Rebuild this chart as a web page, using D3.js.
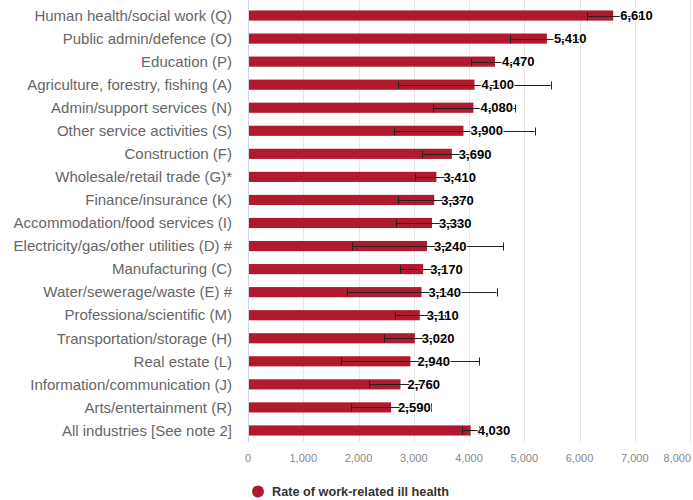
<!DOCTYPE html>
<html>
<head>
<meta charset="utf-8">
<script src="https://cdn.jsdelivr.net/npm/d3@7/dist/d3.min.js"></script>
<style>
  body { margin: 0; background: #fff; }
  svg { font-family: "Liberation Sans", Arial, sans-serif; }
</style>
</head>
<body>
<div id="chart"></div>
<script>
// industries, top to bottom
const categories = [
  "Human health/social work (Q)",
  "Public admin/defence (O)",
  "Education (P)",
  "Agriculture, forestry, fishing (A)",
  "Admin/support services (N)",
  "Other service activities (S)",
  "Construction (F)",
  "Wholesale/retail trade (G)*",
  "Finance/insurance (K)",
  "Accommodation/food services (I)",
  "Electricity/gas/other utilities (D) #",
  "Manufacturing (C)",
  "Water/sewerage/waste (E) #",
  "Professiona/scientific (M)",
  "Transportation/storage (H)",
  "Real estate (L)",
  "Information/communication (J)",
  "Arts/entertainment (R)",
  "All industries [See note 2]"
];
const rates = [6610, 5410, 4470, 4100, 4080, 3900, 3690, 3410, 3370, 3330,
               3240, 3170, 3140, 3110, 3020, 2940, 2760, 2590, 4030];
// 95% confidence interval ends
const lower = [6140, 4745, 4040, 2710, 3345, 2635, 3155, 3015, 2710, 2670,
               1885, 2760, 1785, 2655, 2465, 1690, 2195, 1865, 3875];
const upper = [7080, 6075, 4900, 5480, 4840, 5190, 4230, 3810, 4030, 3990,
               4620, 3580, 4500, 3570, 3580, 4185, 3330, 3320, 4190];
const xTicks = [0, 1000, 2000, 3000, 4000, 5000, 6000, 7000, 8000];
const seriesName = "Rate of work-related ill health";

const width = 693, height = 500;
const margin = { top: 4, right: 3, bottom: 58, left: 248 };
const barColor = "#b0192e";

const svg = d3.select("#chart").append("svg")
  .attr("width", width)
  .attr("height", height);

const x = d3.scaleLinear()
  .domain([0, 8000])
  .range([margin.left, width - margin.right]);

const y = d3.scaleBand()
  .domain(categories)
  .range([margin.top, height - margin.bottom])
  .paddingInner(0.56)
  .paddingOuter(0.28);

// grid lines
svg.append("g")
  .selectAll("line")
  .data(xTicks.slice(1))
  .enter()
  .append("line")
  .attr("x1", d => Math.round(x(d)) + 0.5)
  .attr("x2", d => Math.round(x(d)) + 0.5)
  .attr("y1", 0)
  .attr("y2", height - margin.bottom)
  .attr("stroke", "#e6e6e6");

// tick labels
svg.append("g")
  .selectAll("text")
  .data(xTicks)
  .enter()
  .append("text")
  .attr("x", (d, i) => i === xTicks.length - 1 ? width - 2 : x(d))
  .attr("y", height - margin.bottom + 20)
  .attr("text-anchor", (d, i) => i === xTicks.length - 1 ? "end" : "middle")
  .attr("fill", "#888")
  .style("font-size", "11px")
  .text(d => d3.format(",")(d));

// category labels
svg.append("g")
  .selectAll("text")
  .data(categories)
  .enter()
  .append("text")
  .attr("x", margin.left - 16)
  .attr("y", d => y(d) + y.bandwidth() / 2)
  .attr("dy", "0.35em")
  .attr("text-anchor", "end")
  .attr("fill", "#666")
  .style("font-size", "15px")
  .text(d => d);

// bars
svg.append("g")
  .selectAll("rect")
  .data(rates)
  .enter()
  .append("rect")
  .attr("x", x(0))
  .attr("y", (d, i) => y(categories[i]))
  .attr("width", d => x(d) - x(0))
  .attr("height", y.bandwidth())
  .attr("fill", barColor);

// axis line
svg.append("line")
  .attr("x1", x(0) + 0.5)
  .attr("x2", x(0) + 0.5)
  .attr("y1", 0)
  .attr("y2", height - margin.bottom)
  .attr("stroke", "#ccd6eb");

// error bars
const err = svg.append("g")
  .selectAll("g")
  .data(rates)
  .enter()
  .append("g")
  .attr("transform", (d, i) => "translate(0," + (Math.round(y(categories[i]) + y.bandwidth() / 2) + 0.5) + ")");

err.append("line")
  .attr("x1", (d, i) => x(lower[i]))
  .attr("x2", (d, i) => x(upper[i]))
  .attr("stroke", "#222");

err.append("line")
  .attr("x1", (d, i) => Math.round(x(lower[i])) + 0.5)
  .attr("x2", (d, i) => Math.round(x(lower[i])) + 0.5)
  .attr("y1", -4).attr("y2", 4)
  .attr("stroke", "#222");

err.append("line")
  .attr("x1", (d, i) => Math.round(x(upper[i])) + 0.5)
  .attr("x2", (d, i) => Math.round(x(upper[i])) + 0.5)
  .attr("y1", -4).attr("y2", 4)
  .attr("stroke", "#222");

// value labels
svg.append("g")
  .selectAll("text")
  .data(rates)
  .enter()
  .append("text")
  .attr("x", d => x(d) + 7)
  .attr("y", (d, i) => y(categories[i]) + y.bandwidth() / 2)
  .attr("dy", "0.36em")
  .attr("fill", "#000")
  .attr("stroke", "#fff")
  .attr("stroke-width", 2)
  .attr("paint-order", "stroke")
  .style("font-size", "13px")
  .style("font-weight", "bold")
  .text(d => d3.format(",")(d));

// legend
const legend = svg.append("g")
  .attr("transform", "translate(258," + (height - 8.5) + ")");

legend.append("circle")
  .attr("r", 6)
  .attr("fill", barColor);

legend.append("text")
  .attr("x", 14)
  .attr("dy", "0.35em")
  .attr("fill", "#333")
  .style("font-size", "12.7px")
  .style("font-weight", "bold")
  .text(seriesName);
</script>
</body>
</html>
